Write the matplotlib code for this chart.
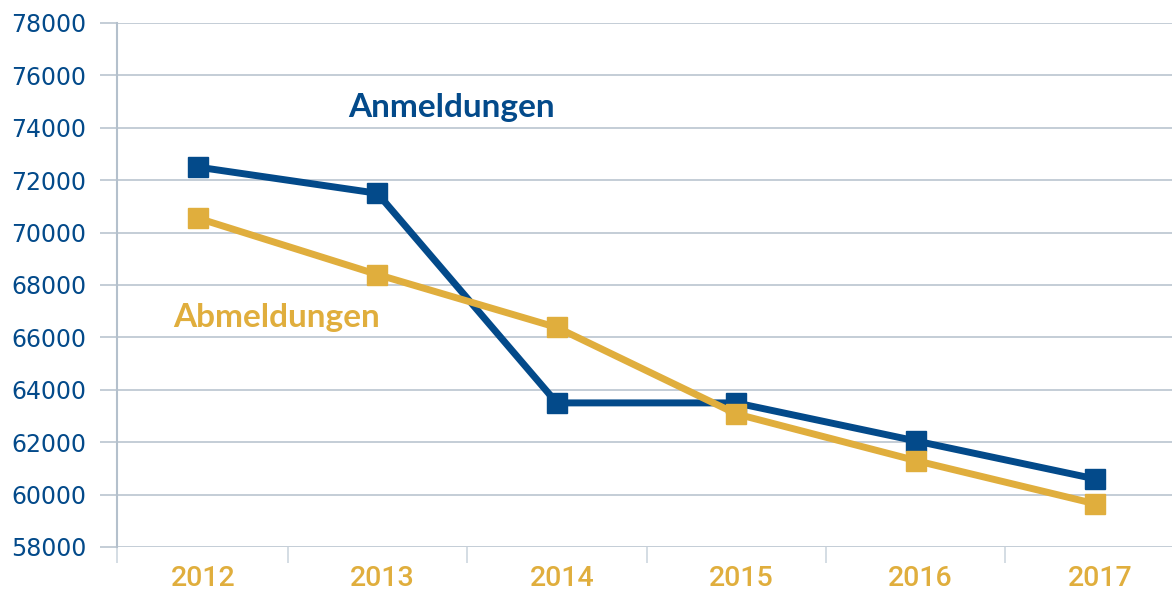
import matplotlib
matplotlib.use("Agg")
import matplotlib.pyplot as plt
from matplotlib.ticker import FixedLocator
import matplotlib.transforms as mtransforms

years = ["2012", "2013", "2014", "2015", "2016", "2017"]
anmeldungen = [72500, 71500, 63500, 63500, 62050, 60600]
abmeldungen = [70550, 68400, 66380, 63080, 61300, 59650]
yticks = list(range(58000, 78001, 2000))

BLUE = "#034a8a"
GOLD = "#e0ae3d"
GRID = "#b4c0cc"
TICK = "#c9d3dd"

fig = plt.figure(figsize=(11.72, 5.93), dpi=100)
ax = fig.add_axes([117/1172, 46/593, 1055/1172, 524/593])

x = list(range(len(years)))
ax.plot(x, anmeldungen, color=BLUE, lw=5, marker="s", ms=13.7, zorder=3,
        solid_joinstyle="miter")
ax.plot(x, abmeldungen, color=GOLD, lw=5, marker="s", ms=13.7, zorder=4,
        solid_joinstyle="miter")

ax.set_xlim(-0.4515, 5.429)
ax.set_ylim(58000, 78000)

ax.set_yticks(yticks)
ax.set_yticklabels([str(v) for v in yticks])
ax.yaxis.grid(True, color=GRID, lw=1.1)
ax.set_axisbelow(True)
ax.tick_params(axis="y", length=12.2, width=1.1, color=GRID, pad=10,
               labelsize=17, labelcolor=BLUE)
for lab in ax.get_yticklabels():
    lab.set_fontfamily("DejaVu Sans")

ax.set_xticks(x)
ax.set_xticklabels(years)
ax.tick_params(axis="x", which="major", length=0, pad=13,
               labelsize=20.5, labelcolor=GOLD)
for lab in ax.get_xticklabels():
    lab.set_fontfamily("Roboto")
    lab.set_fontweight("medium")
    lab.set_transform(lab.get_transform() +
                      mtransforms.ScaledTranslation(5/100, 0, fig.dpi_scale_trans))
ax.xaxis.set_minor_locator(FixedLocator([-0.4515, 0.5, 1.5, 2.5, 3.5, 4.5]))
ax.tick_params(axis="x", which="minor", length=11.5, width=1.1, color=TICK)

for s in ["top", "right", "bottom"]:
    ax.spines[s].set_visible(False)
ax.spines["left"].set_color(GRID)
ax.spines["left"].set_linewidth(1.5)

fig.text(451/1172, (593-117)/593, "Anmeldungen", color=BLUE, fontsize=24,
         fontweight="bold", family="Lato", ha="center", va="baseline")
fig.text(277/1172, (593-327)/593, "Abmeldungen", color=GOLD, fontsize=24,
         fontweight="bold", family="Lato", ha="center", va="baseline")

fig.savefig("out.png", dpi=100)
